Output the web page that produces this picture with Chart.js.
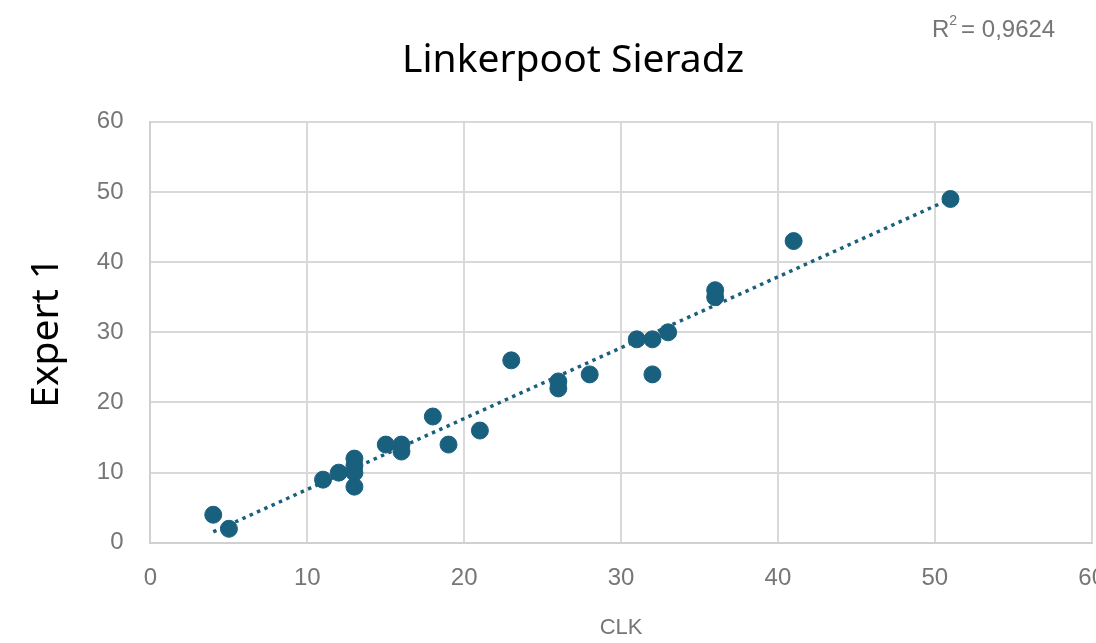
<!DOCTYPE html>
<html>
<head>
<meta charset="utf-8">
<script src="https://cdn.jsdelivr.net/npm/chart.js@4/dist/chart.umd.min.js"></script>
<style>
  html, body { margin: 0; padding: 0; background: #fff; overflow: hidden; }
  #wrap { width: 1126px; height: 643px; }
</style>
</head>
<body>
<div id="wrap"><canvas id="chart"></canvas></div>
<script>
// values
const clk    = [4, 5, 11, 12, 13, 13, 13, 13, 15, 16, 16, 18, 19, 21, 23, 26, 26, 28, 31, 32, 32, 33, 36, 36, 41, 51];
const expert = [4, 2, 9, 10, 12, 11, 10, 8, 14, 14, 13, 18, 14, 16, 26, 23, 22, 24, 29, 29, 24, 30, 36, 35, 43, 49];
const xTicks = [0, 10, 20, 30, 40, 50, 60];
const yTicks = [0, 10, 20, 30, 40, 50, 60];
const r2Label = "0,9624";

const BLUE = "#19607f";
const GREY = "#767676";

// least squares trendline (Excel-style linear fit)
function linearFit(xs, ys) {
  const n = xs.length;
  const mx = xs.reduce((a, b) => a + b, 0) / n;
  const my = ys.reduce((a, b) => a + b, 0) / n;
  let sxy = 0, sxx = 0;
  xs.forEach((x, i) => { sxy += (x - mx) * (ys[i] - my); sxx += (x - mx) * (x - mx); });
  const slope = sxy / sxx;
  return { slope, icpt: my - slope * mx };
}
const fit = linearFit(clk, expert);
const xMin = Math.min(...clk), xMax = Math.max(...clk);
const trend = [xMin, xMax].map(x => ({ x, y: fit.icpt + fit.slope * x }));

const points = clk.map((x, i) => ({ x, y: expert[i] }));

// R² label top right
const r2Plugin = {
  id: "r2",
  afterDraw(chart) {
    const ctx = chart.ctx;
    ctx.save();
    ctx.fillStyle = GREY;
    ctx.textBaseline = "alphabetic";
    ctx.font = "24px 'Liberation Sans', Arial";
    let x = 932, y = 37;
    ctx.fillText("R", x, y);
    x += ctx.measureText("R").width;
    ctx.font = "14px 'Liberation Sans', Arial";
    ctx.fillText("2", x, y - 12);
    x += ctx.measureText("2").width + 4;
    ctx.font = "24px 'Liberation Sans', Arial";
    ctx.fillText("= " + r2Label, x, y);
    ctx.restore();
  }
};

new Chart(document.getElementById("chart"), {
  type: "scatter",
  data: {
    datasets: [
      {
        label: "Expert 1",
        data: points,
        backgroundColor: BLUE,
        borderColor: BLUE,
        pointRadius: 8.5,
        pointHoverRadius: 8.5,
        order: 1
      },
      {
        label: "trend",
        type: "line",
        data: trend,
        borderColor: BLUE,
        borderWidth: 3.5,
        borderDash: [3.5, 4.5],
        pointRadius: 0,
        fill: false,
        order: 2
      }
    ]
  },
  options: {
    responsive: true,
    maintainAspectRatio: false,
    animation: false,
    layout: { padding: { left: 20, right: 0, top: 0, bottom: 0 } },
    plugins: {
      legend: { display: false },
      tooltip: { enabled: false },
      title: {
        display: true,
        text: "Linkerpoot Sieradz",
        color: "#000",
        font: { family: "'Noto Sans'", size: 39, weight: "normal" },
        padding: { top: 37, bottom: 38 }
      }
    },
    scales: {
      x: {
        type: "linear",
        min: 0, max: 60,
        afterBuildTicks: s => { s.ticks = xTicks.map(v => ({ value: v })); },
        grid: { color: "#d9d9d9", lineWidth: 2, drawTicks: false },
        border: { color: "#d0d0d0", width: 2 },
        ticks: { color: GREY, font: { family: "'Liberation Sans'", size: 24 }, padding: 21 },
        title: {
          display: true, text: "CLK", color: GREY,
          font: { family: "'Liberation Sans'", size: 22 },
          padding: { top: 1, bottom: 2 }
        }
      },
      y: {
        type: "linear",
        min: 0, max: 60,
        afterBuildTicks: s => { s.ticks = yTicks.map(v => ({ value: v })); },
        grid: { color: "#d9d9d9", lineWidth: 2, drawTicks: false },
        border: { color: "#d0d0d0", width: 2 },
        ticks: { color: GREY, font: { family: "'Liberation Sans'", size: 24 }, padding: 27 },
        title: {
          display: true, text: "Expert 1", color: "#000",
          font: { family: "'Noto Sans'", size: 39 },
          padding: { top: 3, bottom: 0 }
        }
      }
    }
  },
  plugins: [r2Plugin]
});
</script>
</body>
</html>
